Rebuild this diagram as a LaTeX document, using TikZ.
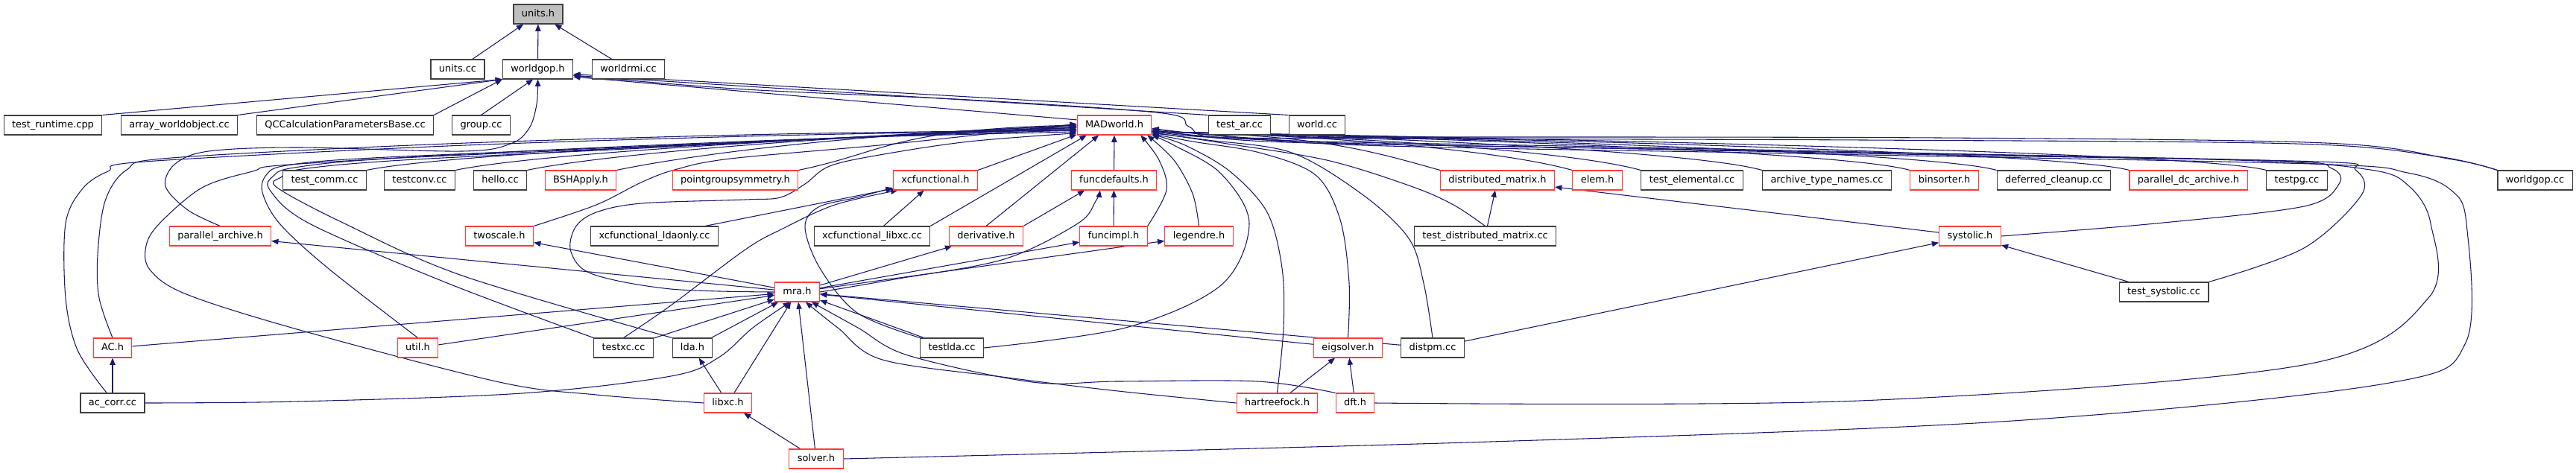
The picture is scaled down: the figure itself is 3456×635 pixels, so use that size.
\documentclass[tikz,border=0pt]{standalone}
\usepackage{fontspec}
\setmainfont{DejaVu Sans}
\usetikzlibrary{arrows.meta}

\definecolor{edgeblue}{RGB}{25,25,112}
\definecolor{truncred}{RGB}{255,60,60}
\definecolor{boxgrey}{RGB}{64,64,64}
\definecolor{curgrey}{RGB}{191,191,191}

\pgfdeclarelayer{background}
\pgfsetlayers{background,main}

\tikzset{
  filebox/.style={draw=boxgrey, fill=white, line width=0.8pt, inner xsep=8.2pt, inner ysep=0pt,
    minimum height=19.5pt, text height=7.3pt, text depth=2.2pt,
    font=\fontsize{9.7}{11}\selectfont},
  truncbox/.style={filebox, draw=truncred},
  curbox/.style={filebox, fill=curgrey},
  dep/.style={draw=edgeblue, line width=0.8pt, -{Triangle[length=7pt, width=5.5pt]}},
  route/.style={smooth, tension=0.55}
}

\begin{document}
\begin{tikzpicture}[x=0.75pt, y=-0.75pt]
      \useasboundingbox (0,0) rectangle (3456,635);
      % Row heights (pixels from the top)
      \def\rowA{19}
      \def\rowB{93}
      \def\rowC{168}
      \def\rowD{242}
      \def\rowE{317}
      \def\rowF{392}
      \def\rowG{467}
      \def\rowH{541}
      \def\rowI{616}
      % The file itself and its direct includers
      \node[curbox] (unitsh) at (722,\rowA) {units.h};
      \node[filebox] (unitscc) at (614,\rowB) {units.cc};
      \node[filebox] (worldgoph) at (721.5,\rowB) {worldgop.h};
      \node[filebox] (worldrmicc) at (843,\rowB) {worldrmi.cc};
      % Files including worldgop.h
      \node[filebox] (testruntime) at (71,\rowC) {test\_runtime.cpp};
      \node[filebox] (arrayworldobject) at (240.5,\rowC) {array\_worldobject.cc};
      \node[filebox] (qccalc) at (463,\rowC) {QCCalculationParametersBase.cc};
      \node[filebox] (groupcc) at (645.5,\rowC) {group.cc};
      \node[truncbox] (madworldh) at (1495,\rowC) {MADworld.h};
      \node[filebox] (testarcc) at (1663,\rowC) {test\_ar.cc};
      \node[filebox] (worldcc) at (1767,\rowC) {world.cc};
      % Files including MADworld.h
      \node[filebox] (testcommcc) at (435.5,\rowD) {test\_comm.cc};
      \node[filebox] (testconvcc) at (563,\rowD) {testconv.cc};
      \node[filebox] (hellocc) at (671,\rowD) {hello.cc};
      \node[truncbox] (bshapplyh) at (779,\rowD) {BSHApply.h};
      \node[truncbox] (pointgroupsymmetryh) at (986.5,\rowD) {pointgroupsymmetry.h};
      \node[truncbox] (xcfunctionalh) at (1255,\rowD) {xcfunctional.h};
      \node[truncbox] (funcdefaultsh) at (1494.5,\rowD) {funcdefaults.h};
      \node[truncbox] (distributedmatrixh) at (2009,\rowD) {distributed\_matrix.h};
      \node[truncbox] (elemh) at (2143,\rowD) {elem.h};
      \node[filebox] (testelementalcc) at (2270,\rowD) {test\_elemental.cc};
      \node[filebox] (archivetypenamescc) at (2451,\rowD) {archive\_type\_names.cc};
      \node[truncbox] (binsorterh) at (2608.5,\rowD) {binsorter.h};
      \node[filebox] (deferredcleanupcc) at (2755.5,\rowD) {deferred\_cleanup.cc};
      \node[truncbox] (paralleldcarchiveh) at (2936,\rowD) {parallel\_dc\_archive.h};
      \node[filebox] (testpgcc) at (3081.5,\rowD) {testpg.cc};
      \node[filebox] (worldgopcc) at (3401,\rowD) {worldgop.cc};
      % Next layer
      \node[truncbox] (parallelarchiveh) at (295.5,\rowE) {parallel\_archive.h};
      \node[truncbox] (twoscaleh) at (670,\rowE) {twoscale.h};
      \node[filebox] (xcfunctionalldaonlycc) at (878,\rowE) {xcfunctional\_ldaonly.cc};
      \node[filebox] (xcfunctionallibxccc) at (1170,\rowE) {xcfunctional\_libxc.cc};
      \node[truncbox] (derivativeh) at (1323,\rowE) {derivative.h};
      \node[truncbox] (funcimplh) at (1494,\rowE) {funcimpl.h};
      \node[truncbox] (legendreh) at (1608.5,\rowE) {legendre.h};
      \node[filebox] (testdistributedmatrixcc) at (1992.5,\rowE) {test\_distributed\_matrix.cc};
      \node[truncbox] (systolich) at (2643,\rowE) {systolic.h};
      \node[truncbox] (mrah) at (1069.5,\rowF) {mra.h};
      \node[filebox] (testsystoliccc) at (2903,\rowF) {test\_systolic.cc};
      % Lower layers
      \node[truncbox] (ACh) at (151,\rowG) {AC.h};
      \node[truncbox] (utilh) at (560.5,\rowG) {util.h};
      \node[filebox] (testxccc) at (836.5,\rowG) {testxc.cc};
      \node[filebox] (ldah) at (929,\rowG) {lda.h};
      \node[filebox] (testldacc) at (1277,\rowG) {testlda.cc};
      \node[truncbox] (eigsolverh) at (1808.5,\rowG) {eigsolver.h};
      \node[filebox] (distpmcc) at (1922,\rowG) {distpm.cc};
      \node[filebox] (accorrcc) at (151,\rowH) {ac\_corr.cc};
      \node[truncbox] (libxch) at (976.5,\rowH) {libxc.h};
      \node[truncbox] (hartreefockh) at (1713.5,\rowH) {hartreefock.h};
      \node[truncbox] (dfth) at (1818,\rowH) {dft.h};
      \node[truncbox] (solverh) at (1095,\rowI) {solver.h};

      \begin{pgfonlayer}{background}
      % Includes of units.h
      \draw[dep] (unitscc) -- (unitsh);
      \draw[dep] (worldgoph) -- (unitsh);
      \draw[dep] (worldrmicc) -- (unitsh);
      % Includes of worldgop.h
      \foreach \nd in {testruntime, arrayworldobject, qccalc}
        \draw[dep] (\nd.north east) -- (worldgoph.south west);
      \draw[dep] (groupcc.north) -- (worldgoph.-115);
      \draw[dep] (madworldh.172) -- (worldgoph.-12);
      \draw[dep] (testarcc.north west) -- (worldgoph.-10);
      \draw[dep] (worldcc.north west) -- (worldgoph.-8);
      \draw[dep] plot[route] coordinates {(parallelarchiveh.north) (252,282) (222,250) (235,220) (280,203)
        (400,198) (620,203) (685,193) (710,172) (720,140) (worldgoph.south)};
      \draw[dep] plot[route] coordinates {(worldgopcc.north west) (3290,214) (3120,192) (2600,185) (1900,184)
        (1640,185) (1595,170) (1560,152) (1300,134) (1000,120) (worldgoph.-10)};
      % Includes of MADworld.h, from the left
      \foreach \nd/\a in {testcommcc/188, testconvcc/186, hellocc/184, bshapplyh/182, pointgroupsymmetryh/180}
        \draw[dep] (\nd.north east) .. controls +(120,-25) and +(-250,6) .. (madworldh.\a);
      \draw[dep] plot[route] coordinates {(accorrcc.120) (104,470) (88,400) (88,300) (111,253) (145,230)
        (194,217) (600,196) (1000,183) (1300,177) (madworldh.188)};
      \draw[dep] plot[route] coordinates {(ACh.north) (133,400) (131,343) (141,270) (170,228) (230,212)
        (600,193) (1000,181) (1300,176) (madworldh.186)};
      \draw[dep] plot[route] coordinates {(libxch.west) (800,530) (670,513) (402,443) (250,395) (201,362)
        (196,330) (214,300) (271,252) (339,230) (388,221) (700,203) (1100,186) (madworldh.190)};
      \draw[dep] plot[route] coordinates {(utilh.north) (440,360) (375,300) (352,258) (358,234) (385,222)
        (500,212) (900,195) (madworldh.184)};
      \draw[dep] plot[route] coordinates {(testxccc.north west) (600,380) (415,300) (362,255) (367,236)
        (395,225) (520,213) (900,196) (madworldh.182)};
      \draw[dep] plot[route] coordinates {(ldah.north west) (620,370) (462,300) (372,252) (377,238)
        (405,227) (540,215) (900,197) (madworldh.180)};
      \draw[dep] plot[route] coordinates {(twoscaleh.north east) (800,275) (860,245) (905,228) (980,213)
        (1200,193) (madworldh.178)};
      \draw[dep] plot[route] coordinates {(mrah.west) (900,388) (795,368) (766,338) (772,305) (800,285)
        (861,273) (1000,268) (1047,265) (1080,247) (1113,223) (1180,208) (1300,190) (madworldh.192)};
      % Includes of MADworld.h, from below
      \draw[dep] (xcfunctionalh.north east) -- (madworldh.194);
      \draw[dep] (xcfunctionallibxccc.north east) -- (madworldh.-160);
      \draw[dep] (derivativeh.north) -- (madworldh.-147);
      \draw[dep] (funcdefaultsh) -- (madworldh);
      \draw[dep] plot[route] coordinates {(funcimplh.north east) (1565,255) (1555,215) (madworldh.-21)};
      \draw[dep] plot[route] coordinates {(legendreh.north) (1600,260) (1575,215) (madworldh.-17)};
      \draw[dep] plot[route] coordinates {(testldacc.east) (1510,440) (1638,383) (1676,300) (1638,233)
        (1575,195) (madworldh.-15)};
      \draw[dep] plot[route] coordinates {(hartreefockh.north) (1722,440) (1720,360) (1700,285) (1650,230)
        (1590,195) (madworldh.-14)};
      \draw[dep] plot[route] coordinates {(eigsolverh.north) (1810,380) (1798,295) (1765,235) (1690,205)
        (1600,190) (madworldh.-13)};
      \draw[dep] plot[route] coordinates {(distpmcc.north) (1910,380) (1890,320) (1829,262) (1733,205)
        (1620,188) (madworldh.-12)};
      \draw[dep] plot[route] coordinates {(testdistributedmatrixcc.north) (1950,275) (1893,250) (1780,215)
        (1640,192) (madworldh.-11)};
      % Includes of MADworld.h, from the right
      \foreach \nd in {distributedmatrixh, elemh, testelementalcc, archivetypenamescc, binsorterh,
                       deferredcleanupcc, paralleldcarchiveh, testpgcc}
        \draw[dep] (\nd.north west) .. controls +(-100,-28) and +(220,4) .. (madworldh.-10);
      \draw[dep] plot[route] coordinates {(worldgopcc.north west) (3270,210) (3080,193) (2500,188)
        (1800,186) (1620,184) (madworldh.-9)};
      \draw[dep] plot[route] coordinates {(systolich.east) (2892,300) (3091,277) (3138,247) (3128,226)
        (3060,216) (2600,206) (2100,196) (1700,188) (madworldh.-8)};
      \draw[dep] plot[route] coordinates {(testsystoliccc.north east) (3091,333) (3168,262) (3160,228)
        (3110,217) (2600,208) (2100,198) (1700,190) (madworldh.-7)};
      \draw[dep] plot[route] coordinates {(dfth.east) (2495,538) (3090,490) (3258,400) (3261,300) (3232,250)
        (3180,228) (3000,215) (2400,203) (1800,192) (madworldh.-6)};
      \draw[dep] plot[route] coordinates {(solverh.east) (2000,593) (2700,565) (3200,515) (3308,460)
        (3309,300) (3288,255) (3230,232) (3100,220) (2400,206) (1800,194) (madworldh.-5)};
      % xcfunctional.h and funcdefaults.h
      \draw[dep] (xcfunctionalldaonlycc) -- (xcfunctionalh);
      \draw[dep] (xcfunctionallibxccc) -- (xcfunctionalh);
      \draw[dep] plot[route] coordinates {(testxccc.north) (900,410) (1000,335) (1048,308) (1120,275)
        (xcfunctionalh.-165)};
      \draw[dep] plot[route] coordinates {(testldacc.north west) (1150,420) (1100,360) (1080,305) (1098,278)
        (1150,265) (xcfunctionalh.-170)};
      \draw[dep] (derivativeh.north east) -- (funcdefaultsh.-161);
      \draw[dep] (funcimplh) -- (funcdefaultsh);
      \draw[dep] plot[route] coordinates {(mrah.east) (1200,375) (1347,348) (1446,300) (1470,270)
        (funcdefaultsh.-144)};
      % What mra.h includes
      \foreach \nd in {parallelarchiveh, twoscaleh, derivativeh, funcimplh, legendreh}
        \draw[dep] (mrah) -- (\nd);
      % Includes of mra.h
      \foreach \nd in {ACh, utilh, testxccc, ldah, libxch, solverh, testldacc, eigsolverh, distpmcc}
        \draw[dep] (\nd) -- (mrah);
      \draw[dep] plot[route] coordinates {(accorrcc.east) (400,539) (700,528) (900,505) (964,480) (1010,440)
        (mrah.-125)};
      \draw[dep] plot[route] coordinates {(hartreefockh.west) (1500,525) (1352,507) (1184,483) (1124,440)
        (mrah.-50)};
      \draw[dep] plot[route] coordinates {(dfth.north west) (1687,512) (1500,512) (1385,513) (1218,477)
        (1151,440) (mrah.-35)};
      % Remaining includes
      \draw[dep] (accorrcc) -- (ACh);
      \draw[dep] (libxch) -- (ldah);
      \draw[dep] (solverh) -- (libxch);
      \draw[dep] (hartreefockh) -- (eigsolverh);
      \draw[dep] (dfth) -- (eigsolverh);
      \draw[dep] (testdistributedmatrixcc) -- (distributedmatrixh);
      \draw[dep] (systolich) -- (distributedmatrixh);
      \draw[dep] (testsystoliccc) -- (systolich);
      \draw[dep] (distpmcc) -- (systolich);
      \end{pgfonlayer}
\end{tikzpicture}
\end{document}
